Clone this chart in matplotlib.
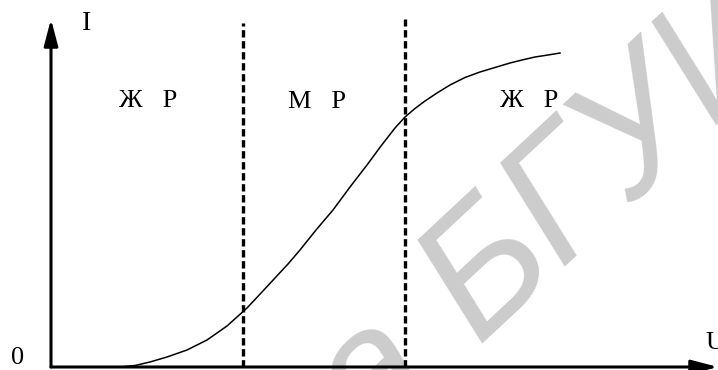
import math
import matplotlib
matplotlib.use("Agg")
import matplotlib.pyplot as plt
from matplotlib.transforms import offset_copy

# Curve I(U), arbitrary units (axis origin at 0,0)
U = [6.9, 8.4, 9.9, 11.6, 13.6, 15.6, 17.6, 19.6, 21.1, 22.4, 23.7, 24.9, 26.5, 28.2, 29.9, 31.6,
     33.0, 34.4, 35.4, 36.4, 37.4, 38.6, 39.9, 41.4, 42.9, 44.4, 45.9, 47.1, 48.4, 49.7, 50.9]
I = [0.0, 0.15, 0.5, 1.0, 1.7, 2.7, 4.1, 5.9, 7.5, 8.9, 10.3, 11.7, 13.7, 15.7, 18.0, 20.2,
     22.1, 23.9, 25.0, 25.85, 26.6, 27.4, 28.2, 28.95, 29.5, 29.95, 30.4, 30.7, 31.0, 31.2, 31.4]

# region boundaries (dashed) and their top ends
boundaries_U = [19.2, 35.4]
boundaries_top = [34.4, 34.8]

region_labels = ["Ж   Р", "М   Р", "Ж   Р"]
region_label_U = [9.7, 26.6, 47.8]
region_label_I = [26.6, 26.5, 26.6]

x_axis_end = 66.7
y_axis_end = 34.8

fig = plt.figure(figsize=(7.18, 3.70), dpi=100)
ax = fig.add_axes([0, 0, 1, 1])
ax.set_xlim(-5.1, 66.7)
ax.set_ylim(-0.3, 36.7)
ax.axis("off")

serif = ["Liberation Serif", "DejaVu Serif"]

# watermark
wm_size = 126
wm_rot = 43
wm_kw = dict(fontsize=wm_size, color="#cccccc", rotation=wm_rot, rotation_mode="anchor",
             va="baseline", style="italic", family=["Liberation Sans", "DejaVu Sans"], zorder=0)
anchor = (42.6, 2.35)
ax.text(anchor[0], anchor[1], "БГУИР", ha="left", **wm_kw)
sp = 0.278 * wm_size
tr = offset_copy(ax.transData, fig=fig, x=-sp * math.cos(math.radians(wm_rot)),
                 y=-sp * math.sin(math.radians(wm_rot)), units="points")
ax.text(anchor[0], anchor[1], "Библиотека", ha="right", transform=tr, **wm_kw)

# axes with arrows
arrow_kw = dict(arrowstyle="-|>,head_length=1.6,head_width=0.42", lw=2.2, color="black",
                shrinkA=0, shrinkB=0)
ax.annotate("", xy=(x_axis_end, 0), xytext=(0, 0), arrowprops=arrow_kw, zorder=3)
ax.annotate("", xy=(0, y_axis_end), xytext=(0, 0), arrowprops=arrow_kw, zorder=3)

# dashed boundaries
for bu, bt in zip(boundaries_U, boundaries_top):
    ax.plot([bu, bu], [0, bt], color="black", lw=2.4, linestyle=(0, (2.2, 1.1)), zorder=2)

# curve
ax.plot(U, I, color="black", lw=1.1, zorder=2)

# labels
for lab, lu, li in zip(region_labels, region_label_U, region_label_I):
    ax.text(lu, li, lab, ha="center", va="center", fontsize=19, family=serif)

ax.text(3.6, 34.3, "I", ha="center", va="center", fontsize=20, family=serif)
ax.text(-3.3, 0.9, "0", ha="center", va="center", fontsize=19, family=serif)
ax.text(65.4, 2.4, "U", ha="left", va="center", fontsize=19, family=serif)

fig.savefig("out.png", dpi=100)
